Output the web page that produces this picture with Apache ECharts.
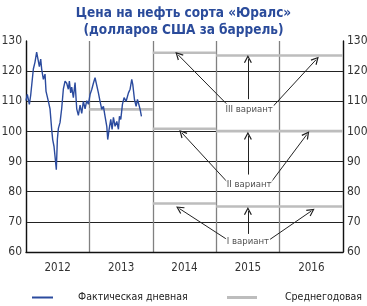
<!DOCTYPE html>
<html><head><meta charset="utf-8">
<script src="https://cdn.jsdelivr.net/npm/echarts@6/dist/echarts.min.js"></script>
<style>html,body{margin:0;padding:0;background:#fff}#c{width:367px;height:306px}</style>
</head><body><div id="c"></div>
<script>
// Tick / category labels
const yearLabels = ['2012','2013','2014','2015','2016'];
// Daily Urals price (x = fractional year, y = USD/bbl)
const dailyX = [2012.000,2012.021,2012.053,2012.074,2012.116,2012.142,2012.168,2012.195,2012.211,2012.232,2012.247,2012.274,2012.300,2012.316,2012.353,2012.379,2012.405,2012.421,2012.442,2012.458,2012.474,2012.478,2012.495,2012.511,2012.537,2012.563,2012.589,2012.616,2012.642,2012.668,2012.684,2012.705,2012.721,2012.747,2012.774,2012.800,2012.826,2012.853,2012.879,2012.905,2012.932,2012.958,2012.984,2013.011,2013.037,2013.063,2013.089,2013.116,2013.142,2013.168,2013.195,2013.221,2013.247,2013.274,2013.289,2013.311,2013.337,2013.358,2013.379,2013.405,2013.432,2013.458,2013.474,2013.495,2013.521,2013.547,2013.579,2013.616,2013.642,2013.668,2013.684,2013.711,2013.737,2013.758,2013.779,2013.800,2013.821];
const dailyY = [110.2,112.3,109.0,112.0,120.7,123.0,126.3,126.8,121.5,124.0,120.7,117.3,119.0,113.3,110.0,107.5,100.7,97.3,95.0,91.7,88.3,87.3,97.5,101.0,103.0,107.6,114.0,116.7,116.0,114.0,116.7,112.8,114.7,111.2,116.2,107.5,105.3,108.7,106.0,110.0,107.5,110.2,109.0,112.3,113.9,116.0,117.8,117.3,112.8,110.0,107.3,108.3,105.0,101.7,97.3,100.7,104.0,100.7,104.7,101.7,103.3,100.7,105.0,104.0,109.0,111.2,110.0,112.8,114.0,117.3,115.6,110.6,108.3,110.6,109.0,107.3,105.0];
// Yearly averages
const avg2013 = 107.3;
const variantYears = [2014, 2015, 2016];
const variantIII = [126.1, 125.2, 125.2];
const variantII  = [100.9, 100.1, 100.1];
const variantI   = [76.1, 75.1, 75.1];
const variantNames = ['III вариант', 'II вариант', 'I вариант'];

const daily = dailyX.map((x, i) => [x, dailyY[i]]);
function segs(vals) {
  const out = [];
  variantYears.forEach((yr, i) => {
    out.push([yr, vals[i]], [yr + 1, vals[i]], [yr + 1, '-']);
  });
  return out;
}
const avgData = [[2013, avg2013], [2014, avg2013], [2014, '-']]
  .concat(segs(variantIII), segs(variantII), segs(variantI));

// Annotation arrows (data coordinates)
const arrowsIII = [[[2015.17,109.0],[2014.40,125.4]],[[2015.50,110.7],[2015.50,124.0]],[[2015.90,108.4],[2016.575,123.8]]];
const arrowsII  = [[[2015.18,83.1],[2014.46,99.5]],[[2015.50,85.7],[2015.50,98.6]],[[2015.85,82.7],[2016.43,99.0]]];
const arrowsI   = [[[2015.16,64.3],[2014.42,74.4]],[[2015.50,66.0],[2015.50,73.6]],[[2015.85,64.2],[2016.50,73.6]]];
const labelPos = [[2015.52,107.3],[2015.52,82.4],[2015.50,63.4]];

const FONT = '"DejaVu Sans Condensed","Liberation Sans Narrow",sans-serif';
const chevron = 'path://M0,9 L5,0 L10,9 L8.6,9.6 L5,3 L1.4,9.6 Z';

const chart = echarts.init(document.getElementById('c'), null, {renderer: 'canvas'});
chart.setOption({
  animation: false,
  backgroundColor: '#fff',
  title: {
    text: 'Цена на нефть сорта «Юралс»\n(долларов США за баррель)',
    left: 'center', top: 0,
    textStyle: {fontFamily: FONT, fontWeight: 'bold', fontSize: 13.5, color: '#2a4b9b', lineHeight: 17}
  },
  grid: {left: 26, right: 24, top: 41, bottom: 54, outerBoundsMode: 'none', containLabel: false},
  legend: [
    {data: ['Фактическая дневная'], left: 27, top: 287, itemWidth: 21, itemHeight: 2, icon: 'rect',
     textStyle: {fontFamily: FONT, fontSize: 10.5, color: '#222', padding: [0,0,0,20]}},
    {data: ['Среднегодовая'], left: 222, top: 287, itemWidth: 30, itemHeight: 3, icon: 'rect',
     textStyle: {fontFamily: FONT, fontSize: 10.5, color: '#222', padding: [0,0,0,23]}}
  ],
  xAxis: [
    {type: 'value', min: 2012, max: 2017, interval: 1,
     axisLine: {show: true, lineStyle: {color: '#111', width: 1.3}}, axisTick: {show: false}, axisLabel: {show: false},
     splitLine: {show: true, lineStyle: {color: '#808080', width: 1.3}}},
    {type: 'category', data: yearLabels, position: 'bottom', boundaryGap: true,
     axisLine: {show: false}, axisTick: {show: false}, splitLine: {show: false},
     axisLabel: {fontFamily: FONT, fontSize: 11.5, color: '#333', margin: 10}}
  ],
  yAxis: [
    {type: 'value', min: 60, max: 130, interval: 10, position: 'left',
     axisLine: {show: true, lineStyle: {color: '#111', width: 1.3}}, axisTick: {show: false},
     axisLabel: {fontFamily: FONT, fontSize: 12, color: '#333', margin: 4},
     splitLine: {show: true, showMaxLine: false, lineStyle: {color: '#222', width: 1.2}}},
    {type: 'value', min: 60, max: 130, interval: 10, position: 'right',
     axisLine: {show: true, lineStyle: {color: '#111', width: 1.3}}, axisTick: {show: false},
     axisLabel: {fontFamily: FONT, fontSize: 12, color: '#333', margin: 4},
     splitLine: {show: false}}
  ],
  series: [
    {name: 'Среднегодовая', type: 'line', data: avgData, showSymbol: false, symbol: 'none',
     connectNulls: false, color: '#bdbdbd', lineStyle: {color: '#bdbdbd', width: 2.6}, z: 3},
    {name: 'Фактическая дневная', type: 'line', data: daily, showSymbol: false, symbol: 'none',
     color: '#2b4b9e', lineStyle: {color: '#2b4b9e', width: 1.4}, z: 4},
    {type: 'lines', coordinateSystem: 'cartesian2d', polyline: false,
     symbol: ['none', chevron], symbolSize: [9, 8],
     lineStyle: {color: '#222', width: 1, opacity: 1, curveness: 0},
     data: arrowsIII.concat(arrowsII, arrowsI).map(c => ({coords: c})), z: 5},
    {type: 'scatter', symbolSize: 0, data: labelPos.map((p, i) => ({value: p, name: variantNames[i]})),
     label: {show: true, position: 'inside', formatter: p => p.name,
             fontFamily: FONT, fontSize: 9.5, color: '#222', backgroundColor: '#fff', padding: [1, 1]}, z: 6}
  ]
});
</script></body></html>
